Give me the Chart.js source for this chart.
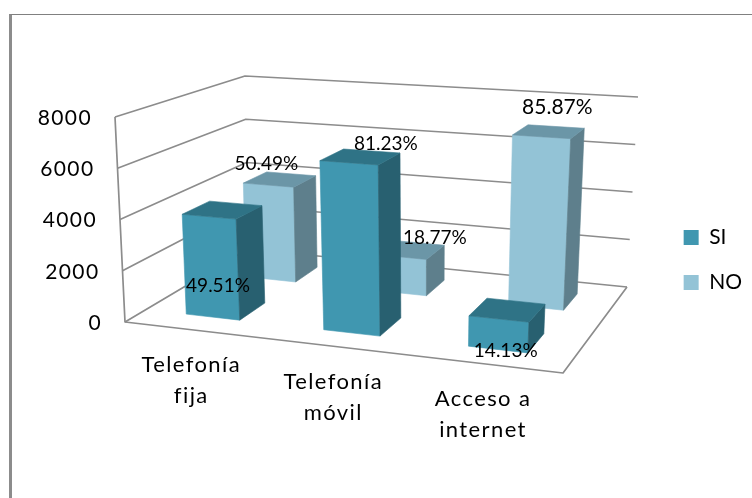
<!DOCTYPE html>
<html>
<head>
<meta charset="utf-8">
<script src="https://cdn.jsdelivr.net/npm/chart.js@4"></script>
<style>
    body { margin: 0; background: #fff; overflow: hidden; }
    #frame { position: absolute; left: 9px; top: 14px; width: 740px; height: 483px; border-top: 1px solid #808080; border-left: 3px solid #8c8c8c; }
    #myChart { position: absolute; left: 0; top: 0; }
</style>
</head>
<body>
<div id="frame"></div>
<canvas id="myChart" width="752" height="498"></canvas>
<script>
// datos
const categories = [['Telefonía', 'fija'], ['Telefonía', 'móvil'], ['Acceso a', 'internet']];
const siValues = [3960, 6500, 1130];
const noValues = [4040, 1500, 6870];
const siLabels = ['49.51%', '81.23%', '14.13%'];
const noLabels = ['50.49%', '18.77%', '85.87%'];
const yTicks = [0, 2000, 4000, 6000, 8000];

// esquinas de la caja 3D: frente-izq, frente-der, fondo-der, fondo-izq
const floorCorners = [[125, 322], [563, 373], [627, 287], [248, 249]];
const topCorners = [[115, 117], [575, 148], [638, 97], [245, 76]];
// profundidad de cada fila de barras (SI delante, NO detras)
const rows = [[0.15, 0.36], [0.64, 0.85]];
const faceColors = [
    { front: '#4097b0', top: '#2f7386', side: '#286070' },
    { front: '#93c3d6', top: '#6b96a7', side: '#5e7f8c' }
];
// desplazamiento y tamano de cada etiqueta respecto al centro superior de la barra
const siLabelOffsets = [[9, 69], [37, -19], [7, 32]];
const noLabelOffsets = [[-2, -21], [35, -19], [16, -30]];
const siLabelSizes = [19, 19, 19];
const noLabelSizes = [19, 19, 21];

function quadMap(q) {
    const dx1 = q[1][0] - q[2][0], dx2 = q[3][0] - q[2][0], sx = q[0][0] - q[1][0] + q[2][0] - q[3][0];
    const dy1 = q[1][1] - q[2][1], dy2 = q[3][1] - q[2][1], sy = q[0][1] - q[1][1] + q[2][1] - q[3][1];
    const det = dx1 * dy2 - dx2 * dy1;
    const g = (sx * dy2 - dx2 * sy) / det, h = (dx1 * sy - sx * dy1) / det;
    const a = q[1][0] - q[0][0] + g * q[1][0], b = q[3][0] - q[0][0] + h * q[3][0];
    const d = q[1][1] - q[0][1] + g * q[1][1], e = q[3][1] - q[0][1] + h * q[3][1];
    return function(u, v) {
        const w = g * u + h * v + 1;
        return [(a * u + b * v + q[0][0]) / w, (d * u + e * v + q[0][1]) / w];
    };
}
const floorMap = quadMap(floorCorners);
const topMap = quadMap(topCorners);

// u: eje x, v: profundidad, t: altura (0 a 1)
function project(u, v, t) {
    const p0 = floorMap(u, v), p1 = topMap(u, v);
    return [p0[0] + (p1[0] - p0[0]) * t, p0[1] + (p1[1] - p0[1]) * t];
}

function polyline(ctx, pts) {
    ctx.beginPath();
    pts.forEach(function(p, i) {
        if (i === 0) ctx.moveTo(p[0], p[1]);
        else ctx.lineTo(p[0], p[1]);
    });
}

function fillFace(ctx, pts, color) {
    polyline(ctx, pts);
    ctx.closePath();
    ctx.fillStyle = color;
    ctx.strokeStyle = color;
    ctx.lineWidth = 0.6;
    ctx.fill();
    ctx.stroke();
}

const box3d = {
    id: 'box3d',
    beforeDatasetsDraw(chart) {
        const ctx = chart.ctx;
        const xs = chart.scales.x, ys = chart.scales.y;
        const heightOf = function(py) { return (ys.bottom - py) / (ys.bottom - ys.top); };
        ctx.save();

        // paredes y rejilla
        ctx.strokeStyle = '#8c8c8c';
        ctx.lineWidth = 1.7;
        ctx.lineJoin = 'round';
        ys.ticks.forEach(function(tick) {
            const t = heightOf(ys.getPixelForValue(tick.value));
            polyline(ctx, [project(0, 0, t), project(0, 1, t), project(1, 1, t)]);
            ctx.stroke();
        });
        polyline(ctx, [project(0, 0, 1), project(0, 0, 0), project(1, 0, 0), project(1, 1, 0)]);
        ctx.stroke();

        // barras, primero la fila del fondo
        [1, 0].forEach(function(ds) {
            const colors = faceColors[ds];
            const v0 = rows[ds][0], v1 = rows[ds][1];
            chart.getDatasetMeta(ds).data.forEach(function(bar) {
                const u0 = (bar.x - bar.width / 2 - xs.left) / xs.width;
                const u1 = (bar.x + bar.width / 2 - xs.left) / xs.width;
                const t = heightOf(bar.y);
                fillFace(ctx, [project(u0, v0, 0), project(u1, v0, 0), project(u1, v0, t), project(u0, v0, t)], colors.front);
                fillFace(ctx, [project(u1, v0, 0), project(u1, v1, 0), project(u1, v1, t), project(u1, v0, t)], colors.side);
                fillFace(ctx, [project(u0, v0, t), project(u1, v0, t), project(u1, v1, t), project(u0, v1, t)], colors.top);
            });
        });

        // textos de ejes
        ctx.fillStyle = '#000';
        ctx.textBaseline = 'middle';
        ctx.font = '21px Lato';
        ctx.letterSpacing = '1.4px';
        ctx.textAlign = 'right';
        ys.ticks.forEach(function(tick) {
            const p = project(0, 0, heightOf(ys.getPixelForValue(tick.value)));
            ctx.fillText(String(tick.value), p[0] - 23, p[1] + 1);
        });
        ctx.font = '22px Lato';
        ctx.textAlign = 'center';
        categories.forEach(function(lines, i) {
            const p = project((xs.getPixelForTick(i) - xs.left) / xs.width, 0, 0);
            lines.forEach(function(line, k) {
                ctx.fillText(line, p[0] - 2, p[1] + 35 + k * 31);
            });
        });

        // porcentajes
        ctx.letterSpacing = '0px';
        [[siLabels, siLabelOffsets, siLabelSizes], [noLabels, noLabelOffsets, noLabelSizes]].forEach(function(set, ds) {
            chart.getDatasetMeta(ds).data.forEach(function(bar, i) {
                const u = (bar.x - xs.left) / xs.width;
                const p = project(u, rows[ds][0], heightOf(bar.y));
                ctx.font = set[2][i] + 'px Lato';
                ctx.fillText(set[0][i], p[0] + set[1][i][0], p[1] + set[1][i][1]);
            });
        });

        ctx.restore();
        return false; // las barras planas no se pintan
    }
};

new Chart(document.getElementById('myChart'), {
    type: 'bar',
    data: {
        labels: categories,
        datasets: [
            { label: 'SI', data: siValues, backgroundColor: faceColors[0].front },
            { label: 'NO', data: noValues, backgroundColor: faceColors[1].front }
        ]
    },
    plugins: [box3d],
    options: {
        responsive: false,
        animation: false,
        layout: { padding: { top: 22, right: 0 } },
        datasets: { bar: { grouped: false, barPercentage: 0.395, categoryPercentage: 1 } },
        scales: {
            x: { display: false },
            y: {
                display: false,
                min: 0,
                max: 8000,
                afterBuildTicks: function(scale) {
                    scale.ticks = yTicks.map(function(v) { return { value: v }; });
                }
            }
        },
        plugins: {
            tooltip: { enabled: false },
            legend: {
                position: 'right',
                labels: {
                    boxWidth: 15,
                    boxHeight: 15,
                    padding: 24,
                    color: '#000',
                    font: { family: 'Lato', size: 21 }
                }
            }
        }
    }
});
</script>
</body>
</html>
